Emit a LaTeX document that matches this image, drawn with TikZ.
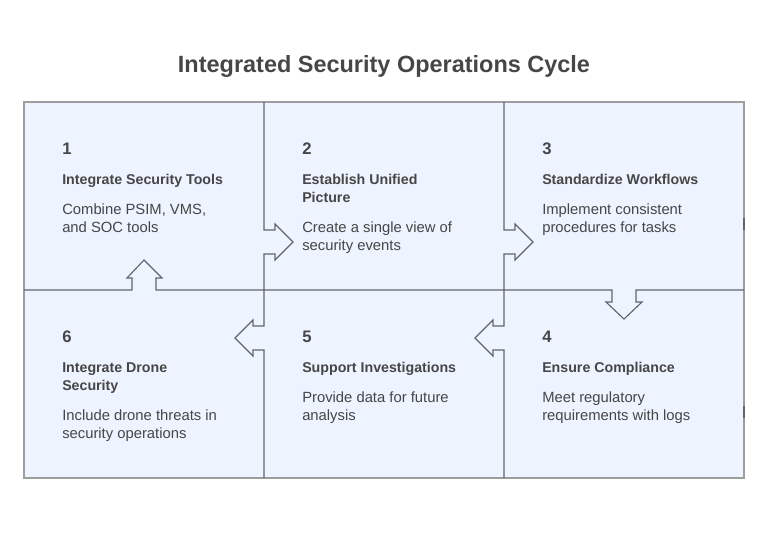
\documentclass[tikz,border=0pt]{standalone}
\usepackage{fontspec}
\setmainfont{Liberation Sans}
\usepackage{xcolor}
\definecolor{cell_fill}{HTML}{EDF3FF}
\definecolor{line_gray}{HTML}{62666B}
\definecolor{frame_gray}{HTML}{9E9E9E}
\definecolor{text_gray}{HTML}{464646}
\tikzset{
  numlabel/.style={anchor=base west,inner sep=0pt,font=\fontsize{12.5}{14}\selectfont\bfseries,text=text_gray},
  headlabel/.style={anchor=base west,inner sep=0pt,align=left,font=\fontsize{10.65}{13.5}\selectfont\bfseries,text=text_gray},
  bodylabel/.style={anchor=base west,inner sep=0pt,align=left,font=\fontsize{11.1}{13.5}\selectfont,text=text_gray},
  cellline/.style={line_gray,line width=0.85pt,line join=miter}
}
\begin{document}
\begin{tikzpicture}[x=0.75pt,y=-0.75pt]
    \useasboundingbox (0,0) rectangle (768,558);
    \fill[white] (0,0) rectangle (768,558);

    % Fond et cadre
    \fill[cell_fill] (24,102) rectangle (744,478);
    \draw[frame_gray,line width=1.1pt] (24,102) rectangle (744,478);
    \draw[cellline] (744,218) -- (744,230);
    \draw[cellline] (744,406) -- (744,418);

    % Titre
    \node[anchor=base,inner sep=0pt,font=\fontsize{17.6}{22}\selectfont\bfseries,text=text_gray] (title) at (384,72) {Integrated Security Operations Cycle};

    % Ligne horizontale avec les flèches 1 et 3
    \draw[cellline] (24,290) -- (132,290) -- (132,278) -- (127,278) -- (144,260) -- (162,278) -- (156,278) -- (156,290)
      -- (612,290) -- (612,302) -- (606,302) -- (624,319) -- (642,302) -- (636,302) -- (636,290) -- (744,290);

    % Lignes verticales avec les flèches
    \foreach \dx in {0,240} {
      \draw[cellline] (264+\dx,102) -- (264+\dx,230) -- (275+\dx,230) -- (275+\dx,224) -- (293+\dx,242) -- (275+\dx,260) -- (275+\dx,254) -- (264+\dx,254)
        -- (264+\dx,326) -- (253+\dx,326) -- (253+\dx,320) -- (235+\dx,338) -- (253+\dx,356) -- (253+\dx,350) -- (264+\dx,350) -- (264+\dx,478);
    }

    % Cellule 1
    \node[numlabel] (num1) at (62,154) {1};
    \node[headlabel] (head1) at (62,184) {Integrate Security Tools};
    \node[bodylabel] (body1) at (62,232) {Combine PSIM, VMS,\\and SOC tools};

    % Cellule 2
    \node[numlabel] (num2) at (302,154) {2};
    \node[headlabel] (head2) at (302,202) {Establish Unified\\Picture};
    \node[bodylabel] (body2) at (302,250) {Create a single view of\\security events};

    % Cellule 3
    \node[numlabel] (num3) at (542,154) {3};
    \node[headlabel] (head3) at (542,184) {Standardize Workflows};
    \node[bodylabel] (body3) at (542,232) {Implement consistent\\procedures for tasks};

    % Cellule 6
    \node[numlabel] (num6) at (62,342) {6};
    \node[headlabel] (head6) at (62,390) {Integrate Drone\\Security};
    \node[bodylabel] (body6) at (62,438) {Include drone threats in\\security operations};

    % Cellule 5
    \node[numlabel] (num5) at (302,342) {5};
    \node[headlabel] (head5) at (302,372) {Support Investigations};
    \node[bodylabel] (body5) at (302,420) {Provide data for future\\analysis};

    % Cellule 4
    \node[numlabel] (num4) at (542,342) {4};
    \node[headlabel] (head4) at (542,372) {Ensure Compliance};
    \node[bodylabel] (body4) at (542,420) {Meet regulatory\\requirements with logs};
\end{tikzpicture}
\end{document}
